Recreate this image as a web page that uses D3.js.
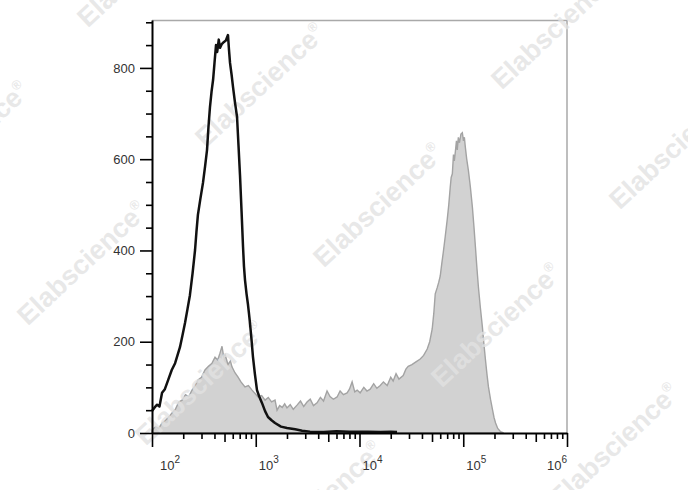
<!DOCTYPE html>
<html><head><meta charset="utf-8">
<script src="https://cdn.jsdelivr.net/npm/d3@7/dist/d3.min.js"></script>
<style>body{margin:0;background:#fff}svg{display:block}</style>
</head><body><svg id="c" width="688" height="490"></svg>
<script>
// Stained sample (gray filled histogram)
const grayX = [100,108,116,125,135,146,156,168,181,195,210,226,243,260,277,300,324,350,379,405,430,452,473,490,506,540,570,590,630,673,720,787,850,921,990,1053,1140,1230,1320,1420,1534,1604,1700,1800,1900,2000,2150,2300,2500,2700,2900,3120,3350,3600,3897,4200,4500,4867,5200,5600,6080,6500,7000,7593,8000,8488,9000,9500,10140,11000,11800,12680,13700,14700,15840,17000,18500,20000,21100,22500,24000,26370,28000,29480,32000,35000,38480,41500,44950,47500,50200,52000,53700,56000,58000,60000,62000,64200,67000,70100,72500,75000,76500,78500,80500,82000,83900,86000,87500,89700,92000,95000,98000,100500,102500,104800,108000,112000,117000,122600,127000,131000,135000,140000,146000,153000,158000,163800,169000,175000,183000,191800,198000,204900,215000,229000,245000];
const grayY = [6,14,10,22,28,36,44,52,68,72,84,80,94,104,116,122,138,146,153,166,160,175,190,168,172,150,158,145,132,123,112,101,104,94,86,79,82,72,78,68,72,50,60,56,64,55,62,52,61,70,58,68,74,60,66,78,70,92,80,74,79,92,84,88,96,112,90,94,88,100,92,96,108,98,104,112,104,122,114,130,118,126,140,146,150,156,162,170,184,200,228,262,305,318,330,344,370,396,430,468,500,540,560,568,610,596,616,640,620,648,636,655,658,640,648,626,600,576,540,494,450,408,366,320,276,232,196,160,130,101,74,50,34,22,10,3,0];
// Control (black line histogram)
const blackX = [100,106,112,118,125,133,143,155,167,176,186,197,208,220,232,246,260,268,277,292,310,325,339,350,362,375,388,400,414,425,440,452,470,494,515,540,552,565,585,604,630,660,682,705,730,754,770,788,815,842,860,880,910,940,980,1028,1080,1148,1230,1312,1420,1534,1750,2000,2400,2800,3334,4500,6000,8000,12000,16000,20000,23000];
const blackY = [48,56,62,58,88,96,116,138,153,170,188,215,241,272,302,350,401,440,478,512,548,585,620,670,714,748,774,810,850,835,862,844,852,857,860,872,840,811,785,758,725,693,630,565,485,408,365,335,305,281,262,241,205,167,130,94,80,66,48,35,28,22,14,11,8,5,3,2,4,3,3,2,3,2];
const yTickValues = [0,200,400,600,800];
const xLabelPowers = ["2","3","4","5","6"];
const xLabelValues = [1e2,1e3,1e4,1e5,1e6];
const watermark = "Elabscience";

const svg = d3.select("#c");
const x = d3.scaleLog().domain([100,1e6]).range([152,567]);
const y = d3.scaleLinear().domain([0,905]).range([433,20]);

// frame (top & right, gray)
svg.append("path").attr("d",`M${x(100)},${y(905)+0.5}H${x(1e6)}V${y(0)}`)
  .attr("fill","none").attr("stroke","#a9a9a9").attr("stroke-width",1.5);

// gray filled histogram
const grayData = grayX.map((v,i)=>[v,grayY[i]]);
svg.append("path").datum(grayData)
  .attr("d", d3.area().x(d=>x(d[0])).y0(y(0)).y1(d=>y(d[1])))
  .attr("fill","#d2d2d2").attr("stroke","#a3a3a3").attr("stroke-width",1.4);

// watermarks
const wmCenters = [[142,-35],[260,85],[378,205],[496,325],[614,445],[-36,143],[82,263],[200,383],[318,503],[556,27],[674,147]];
const wm = svg.append("g");
wmCenters.forEach(c=>{
  const t = wm.append("text").attr("transform",`translate(${c[0]},${c[1]}) rotate(-43)`)
    .attr("text-anchor","middle").attr("dy","0.35em")
    .attr("font-family","Liberation Sans, Arial, sans-serif").attr("font-weight","bold")
    .attr("font-size",27).attr("fill","#e2e2e2").attr("fill-opacity",0.8);
  t.append("tspan").text(watermark);
  t.append("tspan").attr("font-size",13).attr("dy","-0.9em").text("®");
});

// black histogram line
const blackData = blackX.map((v,i)=>[v,blackY[i]]);
svg.append("path").datum(blackData)
  .attr("d", d3.line().x(d=>x(d[0])).y(d=>y(d[1])))
  .attr("fill","none").attr("stroke","#111").attr("stroke-width",2.5).attr("stroke-linejoin","round");

// left axis
const yAxis = d3.axisLeft(y).tickValues(d3.range(0,901,50)).tickSizeOuter(0)
  .tickFormat(d=> yTickValues.includes(d) ? d : "");
const gy = svg.append("g").attr("transform",`translate(${x(100)},0)`).call(yAxis);
gy.select(".domain").attr("stroke","#000").attr("stroke-width",2);
gy.selectAll(".tick line").attr("stroke","#000").attr("stroke-width",1.6)
  .attr("x2",d=> yTickValues.includes(d) ? -12 : -6);
gy.selectAll(".tick text").attr("x",-17).attr("font-size",13)
  .attr("font-family","Liberation Sans, Arial, sans-serif").attr("fill","#333");

// bottom axis
const xTicks = [];
for (let p=2;p<6;p++) for (let k=1;k<10;k++) xTicks.push(k*Math.pow(10,p));
xTicks.push(1e6);
const xAxis = d3.axisBottom(x).tickValues(xTicks).tickSizeOuter(0).tickFormat("");
const gx = svg.append("g").attr("transform",`translate(0,${y(0)})`).call(xAxis);
gx.select(".domain").attr("stroke","#000").attr("stroke-width",2);
const lead = v => Math.round(v/Math.pow(10,Math.floor(Math.log10(v)+1e-9)));
gx.selectAll(".tick line").attr("stroke","#000").attr("stroke-width",1.6)
  .attr("y2",d=>{const k=lead(d); return k===1?14:(k===5?9:6);});

// x labels 10^n
xLabelValues.forEach((v,i)=>{
  const last = i===xLabelValues.length-1;
  const px = x(v) + (last ? 0 : (i===0 ? 8 : 3));
  const t = svg.append("text").attr("x",px).attr("y",470)
    .attr("text-anchor", last ? "end" : "start")
    .attr("font-family","Liberation Sans, Arial, sans-serif").attr("font-size",13).attr("fill","#333");
  t.append("tspan").text("10");
  t.append("tspan").attr("font-size",10).attr("dy",-7).text(xLabelPowers[i]);
});
</script></body></html>
